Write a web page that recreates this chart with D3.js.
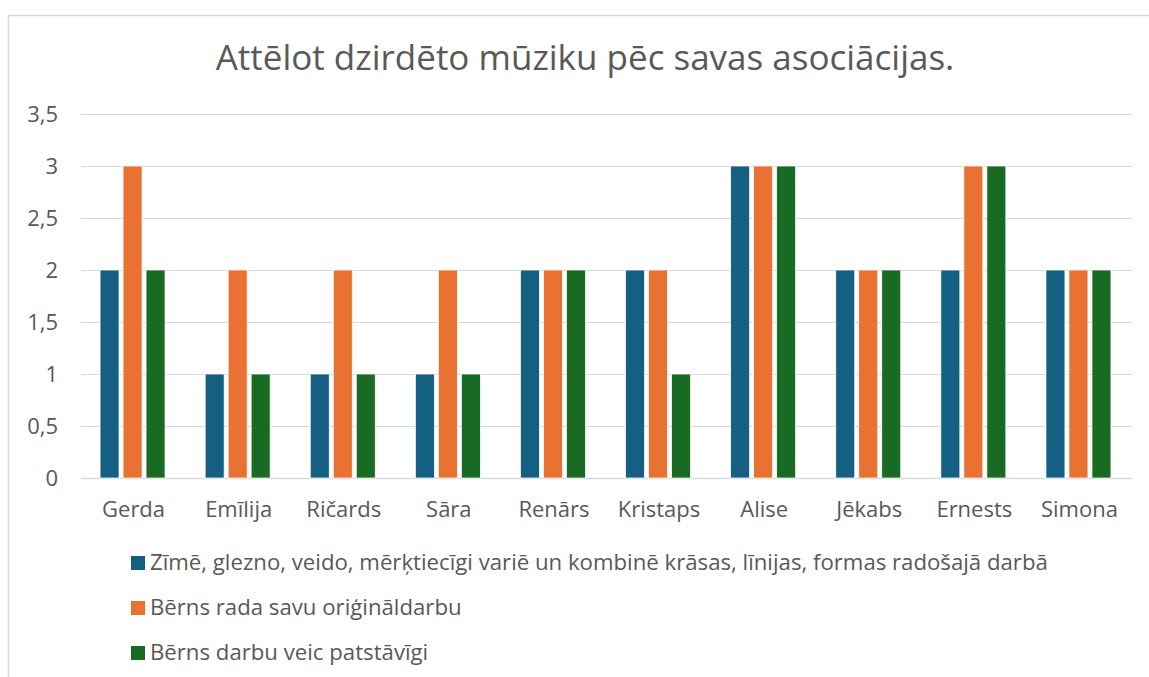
<!DOCTYPE html>
<html>
<head>
<meta charset="utf-8">
<script src="https://cdn.jsdelivr.net/npm/d3@7"></script>
<style>
  body { margin: 0; background: #fff; }
  svg { display: block; font-family: "Open Sans", sans-serif; }
</style>
</head>
<body>
<svg id="chart" width="1149" height="677"></svg>
<script>
const categories = ["Gerda", "Emīlija", "Ričards", "Sāra", "Renārs", "Kristaps", "Alise", "Jēkabs", "Ernests", "Simona"];
const seriesNames = [
  "Zīmē, glezno, veido, mērķtiecīgi variē un kombinē krāsas, līnijas, formas radošajā darbā",
  "Bērns rada savu oriģināldarbu",
  "Bērns darbu veic patstāvīgi"
];
const zime = [2, 1, 1, 1, 2, 2, 3, 2, 2, 2];
const rada = [3, 2, 2, 2, 2, 2, 3, 2, 3, 2];
const patst = [2, 1, 1, 1, 2, 1, 3, 2, 3, 2];
const yTicks = [0, 0.5, 1, 1.5, 2, 2.5, 3, 3.5];
const colors = ["#156082", "#E97132", "#196B24"];

const series = [zime, rada, patst];
const svg = d3.select("#chart");
const textColor = "#595959";

// chart frame
svg.append("path")
  .attr("d", "M8.5,677 V15.5 H1149")
  .attr("fill", "none")
  .attr("stroke", "#d9d9d9")
  .attr("stroke-width", 1.5);

svg.append("text")
  .attr("x", 585).attr("y", 70)
  .attr("text-anchor", "middle")
  .attr("font-size", 35)
  .attr("fill", textColor)
  .text("Attēlot dzirdēto mūziku pēc savas asociācijas.");

const plotL = 81, plotR = 1132, plotT = 114, plotB = 478;

const x = d3.scaleBand().domain(categories).range([plotL, plotR]);
const y = d3.scaleLinear().domain([0, 3.5]).range([plotB, plotT]);
const xs = d3.scaleBand().domain(d3.range(series.length))
  .range([0, 69]);

// grid
svg.append("g")
  .selectAll("line")
  .data(yTicks)
  .join("line")
  .attr("x1", plotL).attr("x2", plotR)
  .attr("y1", d => Math.round(y(d)) + 0.5)
  .attr("y2", d => Math.round(y(d)) + 0.5)
  .attr("stroke", "#d9d9d9")
  .attr("stroke-width", d => d === 0 ? 1.5 : 1);

// y labels
const fmt = d => String(d).replace(".", ",");
svg.append("g")
  .selectAll("text")
  .data(yTicks)
  .join("text")
  .attr("x", 58)
  .attr("y", d => y(d))
  .attr("dy", "0.35em")
  .attr("text-anchor", "end")
  .attr("font-size", 22)
  .attr("fill", textColor)
  .text(fmt);

// bars
const groups = svg.append("g")
  .selectAll("g")
  .data(categories)
  .join("g")
  .attr("transform", d => `translate(${x(d) + (x.bandwidth() - 67) / 2},0)`);

groups.selectAll("rect")
  .data((c, i) => series.map((s, k) => ({ k, v: s[i] })))
  .join("rect")
  .attr("x", d => xs(d.k))
  .attr("width", xs.bandwidth() - 4)
  .attr("y", d => y(d.v))
  .attr("height", d => y(0) - y(d.v))
  .attr("fill", d => colors[d.k])
  .attr("stroke", "#fff")
  .attr("stroke-width", 0.75);

// x labels
svg.append("g")
  .selectAll("text")
  .data(categories)
  .join("text")
  .attr("x", d => x(d) + x.bandwidth() / 2)
  .attr("y", 517)
  .attr("text-anchor", "middle")
  .attr("font-size", 22)
  .attr("fill", textColor)
  .text(d => d);

// legend
const leg = svg.append("g")
  .selectAll("g")
  .data(seriesNames)
  .join("g")
  .attr("transform", (d, i) => `translate(131,${556 + i * 45})`);
leg.append("rect")
  .attr("width", 14).attr("height", 14)
  .attr("fill", (d, i) => colors[i]);
leg.append("text")
  .attr("x", 19).attr("y", 14)
  .attr("font-size", 22.2)
  .attr("fill", textColor)
  .text(d => d);
</script>
</body>
</html>
